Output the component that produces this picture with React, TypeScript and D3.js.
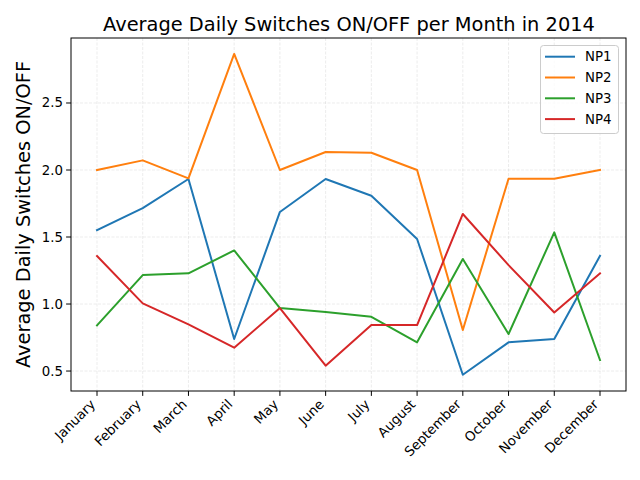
import React, { useEffect, useRef } from 'react';
import * as d3 from 'd3';

const months = ['January', 'February', 'March', 'April', 'May', 'June', 'July', 'August', 'September', 'October', 'November', 'December'];
const np1 = [1.552, 1.716, 1.933, 0.739, 1.687, 1.933, 1.808, 1.485, 0.472, 0.714, 0.739, 1.360];
const np2 = [2.0, 2.072, 1.938, 2.866, 2.0, 2.134, 2.129, 2.0, 0.806, 1.935, 1.935, 2.0];
const np3 = [0.841, 1.216, 1.229, 1.40, 0.970, 0.940, 0.905, 0.714, 1.336, 0.776, 1.535, 0.582];
const np4 = [1.358, 1.005, 0.848, 0.674, 0.970, 0.540, 0.843, 0.843, 1.672, 1.29, 0.937, 1.229];
const yTicks = [0.5, 1.0, 1.5, 2.0, 2.5];

const seriesNames = ['NP1', 'NP2', 'NP3', 'NP4'];
const seriesData = [np1, np2, np3, np4];
const colors = ['#1f77b4', '#ff7f0e', '#2ca02c', '#d62728'];

const App = () => {
  const chRef = useRef<SVGSVGElement>(null);

  useEffect(() => {
    const width = 640;
    const height = 480;
    const left = 71, right = 626, top = 38, bottom = 391;

    const svg = d3.select(chRef.current);
    svg.selectAll('*').remove();
    svg.style('font-family', '"DejaVu Sans", sans-serif');

    svg.append('rect').attr('width', width).attr('height', height).attr('fill', '#fff');

    const x = d3.scalePoint<string>().domain(months).range([97, 600]);
    const y = d3.scaleLinear().domain([0.351, 2.985]).range([bottom, top]);

    // grid
    const grid = svg.append('g')
      .attr('stroke', '#b0b0b0')
      .attr('stroke-opacity', 0.3)
      .attr('stroke-width', 0.8)
      .attr('stroke-dasharray', '3,1.5');
    grid.selectAll('.vx').data(months).enter().append('line')
      .attr('x1', d => x(d)!).attr('x2', d => x(d)!)
      .attr('y1', top).attr('y2', bottom);
    grid.selectAll('.hy').data(yTicks).enter().append('line')
      .attr('x1', left).attr('x2', right)
      .attr('y1', d => y(d)).attr('y2', d => y(d));

    // lines
    const line = d3.line<number>()
      .x((d, i) => x(months[i])!)
      .y(d => y(d));
    seriesData.forEach((s, i) => {
      svg.append('path')
        .datum(s)
        .attr('d', line)
        .attr('fill', 'none')
        .attr('stroke', colors[i])
        .attr('stroke-width', 2)
        .attr('stroke-linejoin', 'round')
        .attr('stroke-linecap', 'square');
    });

    // spines
    svg.append('rect')
      .attr('x', left).attr('y', top)
      .attr('width', right - left).attr('height', bottom - top)
      .attr('fill', 'none').attr('stroke', '#000').attr('stroke-width', 1);

    // x axis
    const xa = svg.append('g');
    months.forEach(m => {
      xa.append('line')
        .attr('x1', x(m)!).attr('x2', x(m)!)
        .attr('y1', bottom).attr('y2', bottom + 4.9)
        .attr('stroke', '#000').attr('stroke-width', 1);
      xa.append('text')
        .attr('transform', `translate(${x(m)! - 4},${bottom + 11}) rotate(-45)`)
        .attr('text-anchor', 'end')
        .attr('dominant-baseline', 'central')
        .attr('font-size', 13.33)
        .attr('fill', '#000')
        .text(m);
    });

    // y axis
    const ya = svg.append('g');
    yTicks.forEach(t => {
      ya.append('line')
        .attr('x1', left - 4.9).attr('x2', left)
        .attr('y1', y(t)).attr('y2', y(t))
        .attr('stroke', '#000').attr('stroke-width', 1);
      ya.append('text')
        .attr('x', left - 8).attr('y', y(t))
        .attr('text-anchor', 'end')
        .attr('dominant-baseline', 'central')
        .attr('font-size', 13.33)
        .attr('fill', '#000')
        .text(t.toFixed(1));
    });

    // title and y label
    svg.append('text')
      .attr('x', (left + right) / 2 + 0.5).attr('y', 31)
      .attr('text-anchor', 'middle')
      .attr('font-size', 19.4)
      .text('Average Daily Switches ON/OFF per Month in 2014');
    svg.append('text')
      .attr('transform', `translate(29.5,${(top + bottom) / 2}) rotate(-90)`)
      .attr('text-anchor', 'middle')
      .attr('font-size', 19.4)
      .text('Average Daily Switches ON/OFF');

    // legend
    const lg = svg.append('g');
    lg.append('rect')
      .attr('x', 540.5).attr('y', 45.5)
      .attr('width', 78).attr('height', 88)
      .attr('rx', 3)
      .attr('fill', '#fff').attr('fill-opacity', 0.8)
      .attr('stroke', '#cccccc').attr('stroke-width', 1);
    seriesNames.forEach((n, i) => {
      const ry = 56.7 + i * 20.8;
      lg.append('line')
        .attr('x1', 545).attr('x2', 575)
        .attr('y1', ry).attr('y2', ry)
        .attr('stroke', colors[i]).attr('stroke-width', 2);
      lg.append('text')
        .attr('x', 585).attr('y', ry)
        .attr('dominant-baseline', 'central')
        .attr('font-size', 13.33)
        .text(n);
    });
  }, []);

  return <svg ref={chRef} width={640} height={480} style={{ display: 'block', margin: -8 }} />;
};

export default App;
